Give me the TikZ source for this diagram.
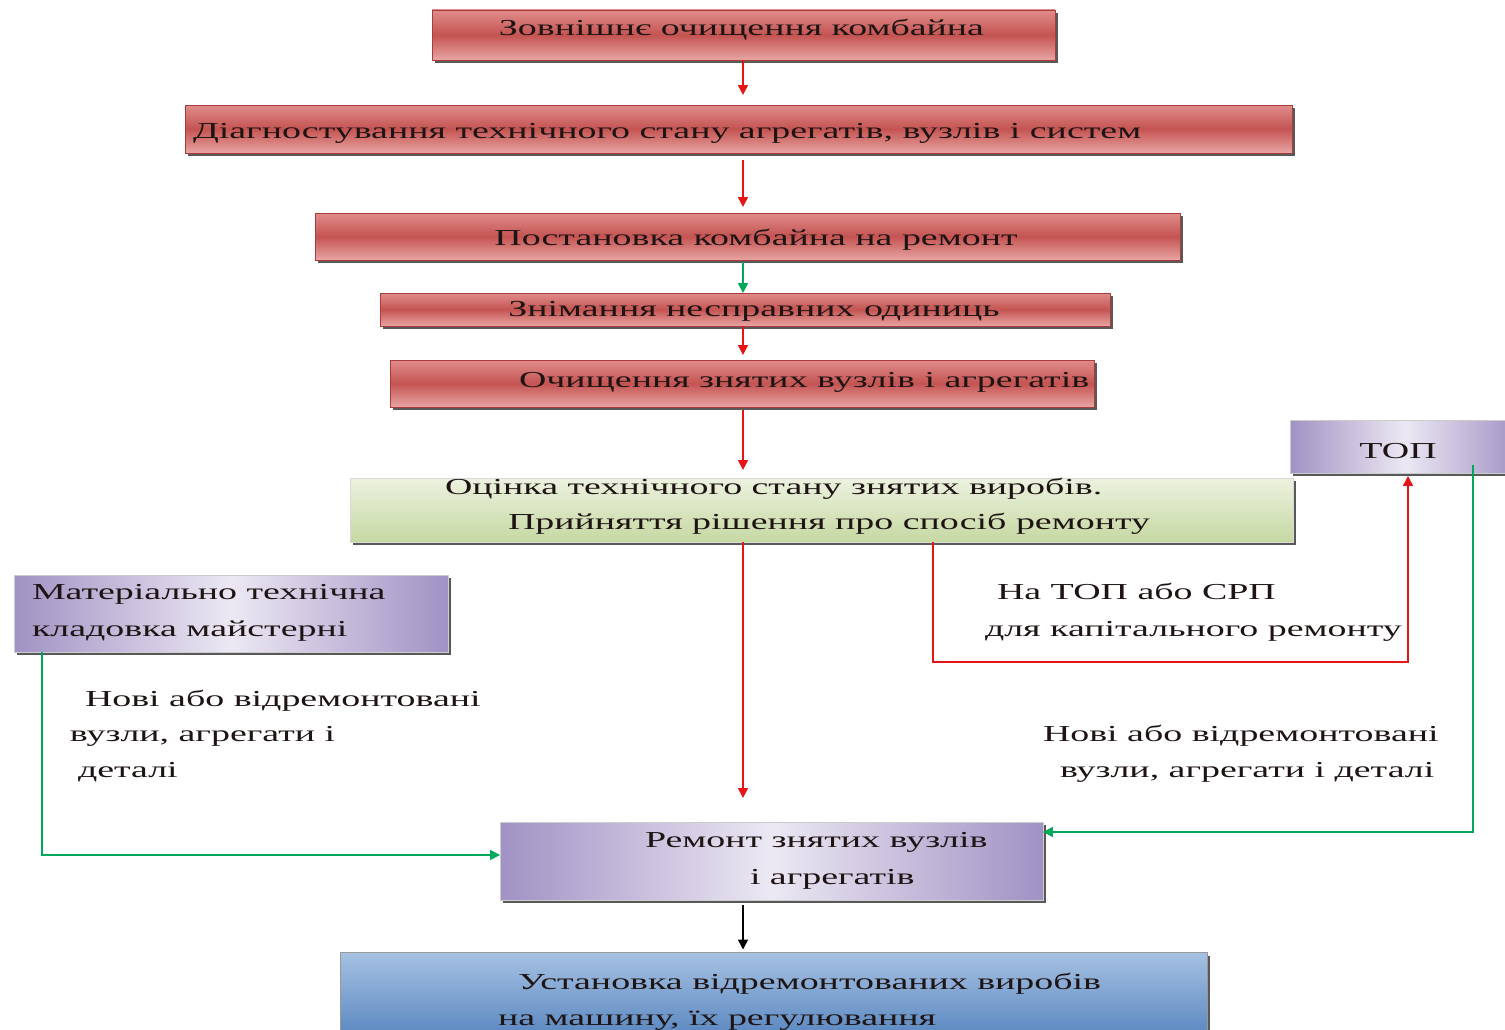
\documentclass[tikz,border=0pt]{standalone}
\usepackage{fontspec}
\setmainfont[FakeStretch=1.66]{Liberation Serif}
\usetikzlibrary{arrows.meta,shadows}
\definecolor{redtop}{RGB}{224,140,138}
\definecolor{redmid}{RGB}{196,84,82}
\definecolor{redbot}{RGB}{232,165,163}
\definecolor{rededge}{RGB}{170,60,60}
\definecolor{purpdark}{RGB}{160,146,196}
\definecolor{purplight}{RGB}{236,232,243}
\definecolor{greentop}{RGB}{236,242,224}
\definecolor{greenbot}{RGB}{198,216,162}
\definecolor{bluetop}{RGB}{166,193,226}
\definecolor{bluebot}{RGB}{80,128,188}
\definecolor{arrred}{RGB}{230,20,20}
\definecolor{arrgreen}{RGB}{0,168,90}
\definecolor{txt}{RGB}{30,20,20}
\begin{document}
\begin{tikzpicture}[x=0.02cm,y=-0.02cm,
  every node/.style={inner sep=0pt,outer sep=0pt},
  shd/.style={drop shadow={shadow xshift=0.06cm,shadow yshift=-0.06cm,fill=black!65,opacity=1}},
  redbox/.style={shd,draw=rededge,line width=0.4pt,top color=redtop,bottom color=redbot,middle color=redmid},
  purpbox/.style={shd,draw=black!20,line width=0.4pt,left color=purpdark,right color=purpdark,middle color=purplight},
  greenbox/.style={shd,draw=black!15,line width=0.4pt,top color=greentop,bottom color=greenbot},
  bluebox/.style={shd,draw=black!40,line width=0.4pt,top color=bluetop,bottom color=bluebot},
  lbl/.style={text=txt,font=\fontsize{13}{15}\selectfont,yshift=-0.06cm},
  redarr/.style={draw=arrred,line width=0.9pt,-{Triangle[length=0.2cm,width=0.2cm]}},
  greenarr/.style={draw=arrgreen,line width=0.9pt,-{Triangle[length=0.2cm,width=0.2cm]}},
  blackarr/.style={draw=black,line width=0.9pt,-{Triangle[length=0.2cm,width=0.2cm]}}
]
\useasboundingbox (0,0) rectangle (1505,1030);
\fill[white] (0,0) rectangle (1505,1030);

% boxes
\node[redbox,minimum width=12.46cm,minimum height=1.0cm] (b1) at (743.5,35) {};
\node[redbox,minimum width=22.14cm,minimum height=0.96cm] (b2) at (738.5,129) {};
\node[redbox,minimum width=17.3cm,minimum height=0.94cm] (b3) at (747.5,236.5) {};
\node[redbox,minimum width=14.6cm,minimum height=0.66cm] (b4) at (745,309.5) {};
\node[redbox,minimum width=14.08cm,minimum height=0.94cm] (b5) at (742,383.5) {};
\node[greenbox,minimum width=18.86cm,minimum height=1.28cm] (b6) at (821.5,510) {};
\node[purpbox,minimum width=4.6cm,minimum height=1.06cm] (top) at (1405,446.5) {};
\node[purpbox,minimum width=8.68cm,minimum height=1.54cm] (mat) at (231,613.5) {};
\node[purpbox,minimum width=10.86cm,minimum height=1.56cm] (rem) at (771.5,861) {};
\node[bluebox,minimum width=17.34cm,minimum height=1.9cm] (ust) at (773.5,1000) {};

% texts
\node[lbl,anchor=mid] (t1) at (741.5,28) {Зовнішнє очищення комбайна};
\node[lbl,anchor=mid west] (t2) at (193,131) {Діагностування технічного стану агрегатів, вузлів і систем};
\node[lbl,anchor=mid] (t3) at (756,238) {Постановка комбайна на ремонт};
\node[lbl,anchor=mid] (t4) at (754,309) {Знімання несправних одиниць};
\node[lbl,anchor=mid west] (t5) at (519,380) {Очищення знятих вузлів і агрегатів};
\node[lbl,anchor=mid west] (t6a) at (445,487) {Оцінка технічного стану знятих виробів.};
\node[lbl,anchor=mid west] (t6b) at (508,522) {Прийняття рішення про спосіб ремонту};
\node[lbl,anchor=mid] (ttop) at (1398,451) {ТОП};
\node[lbl,anchor=mid west] (tm1) at (32,592) {Матеріально технічна};
\node[lbl,anchor=mid west] (tm2) at (32,629) {кладовка майстерні};
\node[lbl,anchor=mid west] (tn1) at (85,699) {Нові або відремонтовані};
\node[lbl,anchor=mid west] (tn2) at (70,734) {вузли, агрегати і};
\node[lbl,anchor=mid west] (tn3) at (78,770) {деталі};
\node[lbl,anchor=mid west] (tc1) at (997,592) {На ТОП або СРП};
\node[lbl,anchor=mid west] (tc2) at (985,629) {для капітального ремонту};
\node[lbl,anchor=mid west] (tr1) at (1043,734) {Нові або відремонтовані};
\node[lbl,anchor=mid west] (tr2) at (1060,770) {вузли, агрегати і деталі};
\node[lbl,anchor=mid west] (trem1) at (645,840) {Ремонт знятих вузлів};
\node[lbl,anchor=mid west] (trem2) at (750,877) {і агрегатів};
\node[lbl,anchor=mid west] (tu1) at (518,982) {Установка відремонтованих виробів};
\node[lbl,anchor=mid west] (tu2) at (498,1018) {на машину, їх регулювання};

% connectors
\coordinate (cx) at (743,0);
\draw[redarr,shorten >=0.2cm] (b1.south -| cx) -- (b2.north -| cx);
\draw[redarr,shorten <=0.14cm,shorten >=0.12cm] (b2.south -| cx) -- (b3.north -| cx);
\draw[greenarr,shorten <=0.04cm] (b3.south -| cx) -- (b4.north -| cx);
\draw[redarr,shorten >=0.1cm] (b4.south -| cx) -- (b5.north -| cx);
\draw[redarr,shorten <=0.06cm,shorten >=0.16cm] (b5.south -| cx) -- (b6.north -| cx);
\draw[redarr,shorten >=0.48cm] (b6.south -| cx) -- (rem.north -| cx);
\coordinate (xr) at (933,662);
\coordinate (xt) at (1408,662);
\draw[redarr,shorten >=0.06cm] (b6.south -| xr) -- (xr) -- (xt) -- (xt |- top.south);
\coordinate (g2) at (1473,832);
\draw[greenarr,shorten <=-0.16cm] (top.south -| g2) -- (g2) -- (g2 -| rem.east);
\coordinate (g1) at (42,855);
\draw[greenarr] (mat.south -| g1) -- (g1) -- (g1 -| rem.west);
\draw[blackarr,shorten <=0.1cm,shorten >=0.06cm] (rem.south -| cx) -- (ust.north -| cx);
\end{tikzpicture}
\end{document}
